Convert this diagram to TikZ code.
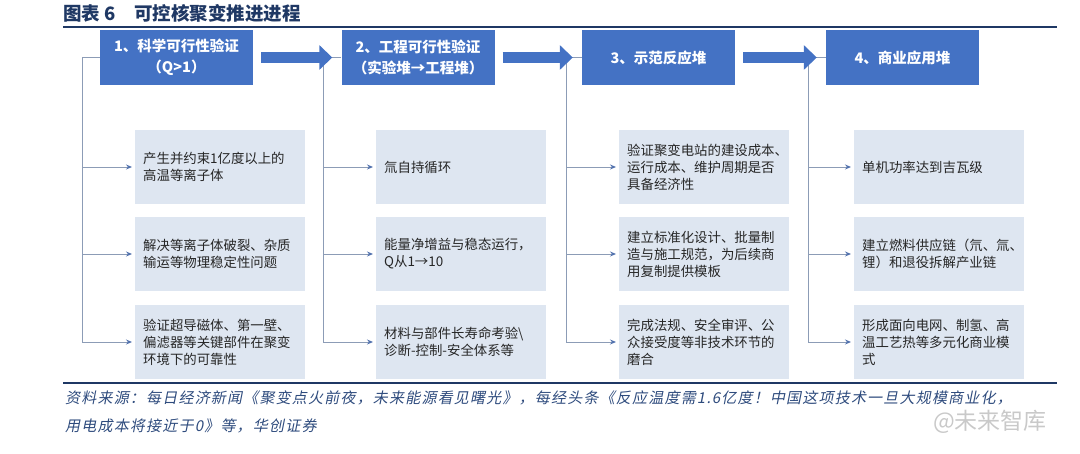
\documentclass[tikz,border=0pt]{standalone}
\usepackage{fontspec}
\setmainfont{Noto Sans CJK SC}
\newfontfamily\slantfont[FakeSlant=0.2,LetterSpace=8]{Noto Sans CJK SC}
\usetikzlibrary{arrows.meta}
\definecolor{stageblue}{HTML}{4472C4}
\definecolor{navy}{HTML}{1F3864}
\definecolor{notenavy}{HTML}{2E4B7D}
\definecolor{itembg}{HTML}{DEE6F1}
\definecolor{itemtext}{HTML}{262626}
\definecolor{linkgray}{HTML}{8C9CB6}
\definecolor{tipblue}{HTML}{5272AE}
\definecolor{markgray}{HTML}{C9C9C9}

\begin{document}
\begin{tikzpicture}
[x=1pt,y=-1pt,>={Stealth[length=6pt,width=5pt,color=tipblue]},
stage/.style = {fill=stageblue, text=white, minimum width=153pt, minimum height=55pt, inner sep=0pt, align=center, font=\fontsize{14.5}{21}\bfseries\selectfont},
item/.style = {fill=itembg, text=itemtext, anchor=west, minimum height=74pt, text width=154pt, inner xsep=8pt, inner ysep=0pt, align=left, font=\fontsize{13.4}{17}\selectfont},
link/.style = {draw=linkgray, line width=0.9pt, ->, shorten >=3pt},
bigarrow/.style = {draw=stageblue, line width=11pt, -{Triangle[length=13pt,width=24pt,color=stageblue]}, shorten <=8pt, shorten >=9pt},
note/.style = {anchor=west, text=notenavy, inner sep=0pt, font=\fontsize{15}{15}\slantfont},]

\useasboundingbox (0,0) rectangle (1080,454);

\node (title) [anchor=west, inner sep=0pt, text=navy, font=\fontsize{18.5}{18.5}\bfseries\selectfont] at (63,13) {图表 6\quad 可控核聚变推进进程};
\draw [navy, line width=1.8pt] (63,27) -- (1057,27);

\node (h1) [stage] at (176.5,57.5) {1、科学可行性验证\\（Q>1）};
\node (h2) [stage] at (418,57.5) {2、工程可行性验证\\（实验堆→工程堆）};
\node (h3) [stage] at (658.5,57.5) {3、示范反应堆};
\node (h4) [stage] at (902.5,57.5) {4、商业应用堆};

\coordinate (v1) at (82,57.5);
\coordinate (v2) at (323,57.5);
\coordinate (v3) at (566,57.5);
\coordinate (v4) at (808,57.5);

\node (a1) [item] at (135,167) {产生并约束1亿度以上的\\高温等离子体};
\node (a2) [item] at (135,254) {解决等离子体破裂、杂质\\输运等物理稳定性问题};
\node (a3) [item] at (135,342) {验证超导磁体、第一壁、\\偏滤器等关键部件在聚变\\环境下的可靠性};

\node (b1) [item] at (376,167) {氚自持循环};
\node (b2) [item] at (376,254) {能量净增益与稳态运行，\\Q从1→10};
\node (b3) [item] at (376,342) {材料与部件长寿命考验\textbackslash\\诊断-控制-安全体系等};

\node (c1) [item] at (619,167) {验证聚变电站的建设成本、\\运行成本、维护周期是否\\具备经济性};
\node (c2) [item] at (619,254) {建立标准化设计、批量制\\造与施工规范，为后续商\\用复制提供模板};
\node (c3) [item] at (619,342) {完成法规、安全审评、公\\众接受度等非技术环节的\\磨合};

\node (d1) [item] at (854,167) {单机功率达到吉瓦级};
\node (d2) [item] at (854,254) {建立燃料供应链（氘、氚、\\锂）和退役拆解产业链};
\node (d3) [item] at (854,342) {形成面向电网、制氢、高\\温工艺热等多元化商业模\\式};

\draw [link] (h1.west) -- (v1) |- (a3.west);
\draw [link] (v1) |- (a1.west);
\draw [link] (v1) |- (a2.west);
\draw [link] (h2.west) -- (v2) |- (b3.west);
\draw [link] (v2) |- (b1.west);
\draw [link] (v2) |- (b2.west);
\draw [link] (h3.west) -- (v3) |- (c3.west);
\draw [link] (v3) |- (c1.west);
\draw [link] (v3) |- (c2.west);
\draw [link] (h4.west) -- (v4) |- (d3.west);
\draw [link] (v4) |- (d1.west);
\draw [link] (v4) |- (d2.west);

\draw [bigarrow] (h1.east) -- (h2.west);
\draw [bigarrow] (h2.east) -- (h3.west);
\draw [bigarrow] (h3.east) -- (h4.west);

\draw [navy, line width=1.8pt] (63,383) -- (1057,383);
\node (mark) [text=markgray, inner sep=0pt, font=\fontsize{23}{23}\selectfont] at (990,422) {@未来智库};
\node (src1) [note] at (65,398) {资料来源：每日经济新闻《聚变点火前夜，未来能源看见曙光》，每经头条《反应温度需1.6亿度！中国这项技术一旦大规模商业化，};
\node (src2) [note] at (65,426) {用电成本将接近于0》等，华创证券};
\end{tikzpicture}
\end{document}
